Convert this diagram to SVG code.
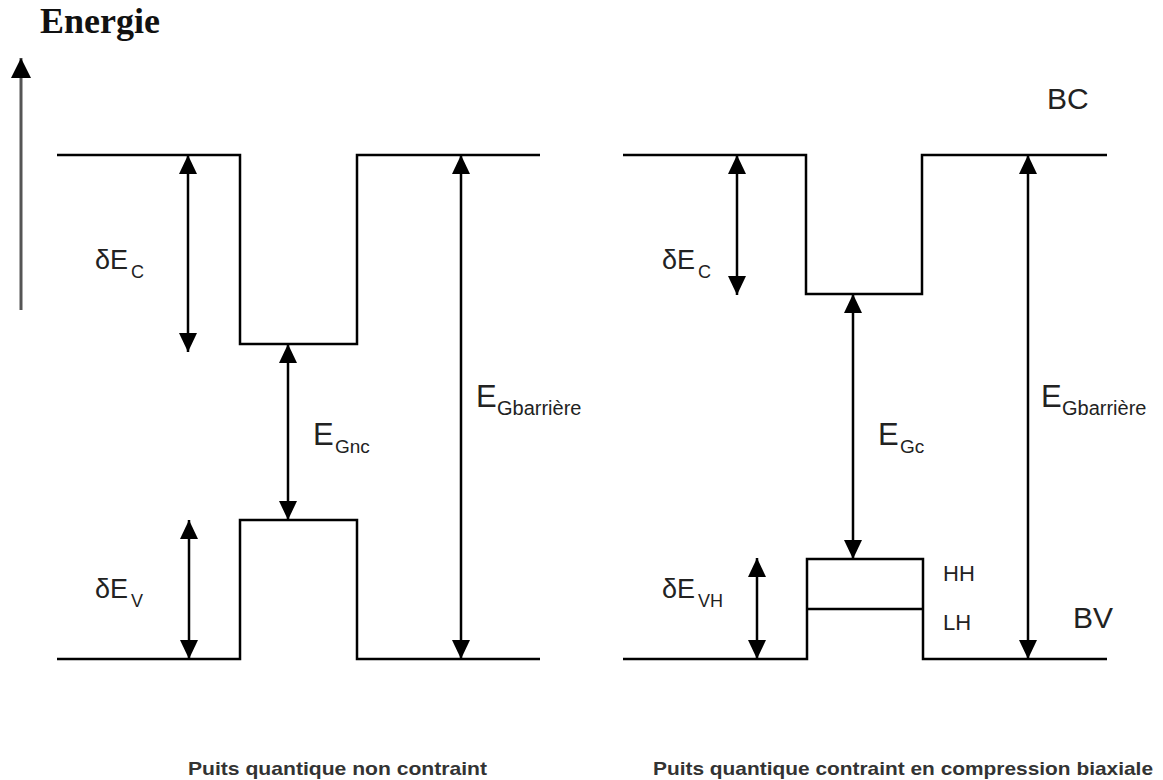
<svg xmlns="http://www.w3.org/2000/svg" width="1163" height="780" viewBox="0 0 1163 780">
<defs>
<marker id="ah" markerUnits="userSpaceOnUse" markerWidth="20" markerHeight="20" viewBox="0 0 20 20" refX="19" refY="9" orient="auto-start-reverse">
<path d="M0,0 L19,9 L0,18 z" fill="#000"/>
</marker>
<marker id="ahg" markerUnits="userSpaceOnUse" markerWidth="22" markerHeight="22" viewBox="0 0 22 22" refX="20" refY="10" orient="auto-start-reverse">
<path d="M0,0 L20,10 L0,20 z" fill="#000"/>
</marker>
</defs>
<style>
.band{fill:none;stroke:#000;stroke-width:2.5}
.arr{stroke:#000;stroke-width:2.5;marker-start:url(#ah);marker-end:url(#ah)}
.lbl{font-family:"Liberation Sans",Arial,sans-serif;fill:#222}
.cap{font-family:"Liberation Sans",Arial,sans-serif;font-weight:bold;font-size:19px;fill:#333}
</style>
<rect width="1163" height="780" fill="#fff"/>
<g id="axis">
<line x1="21" y1="310" x2="21" y2="58" stroke="#555" stroke-width="3" marker-end="url(#ahg)"/>
<text x="40" y="33" font-family="Liberation Serif,'Times New Roman',serif" font-weight="bold" font-size="36" fill="#111">Energie</text>
</g>
<g id="left-well">
<polyline class="band" points="57,155 240,155 240,344 357,344 357,155 540,155"/>
<polyline class="band" points="57,659 240,659 240,520 357,520 357,659 540,659"/>
</g>
<g id="right-well">
<polyline class="band" points="623,155 806,155 806,294 922,294 922,155 1107,155"/>
<polyline class="band" points="623,659 807,659 807,559 923,559 923,659 1107,659"/>
<line class="band" x1="807" y1="609" x2="923" y2="609"/>
</g>
<g id="connectors">
<line class="arr" x1="188" y1="155" x2="188" y2="352"/>
<line class="arr" x1="288" y1="344" x2="288" y2="520"/>
<line class="arr" x1="189" y1="520" x2="189" y2="659"/>
<line class="arr" x1="461" y1="155" x2="461" y2="659"/>
<line class="arr" x1="737" y1="155" x2="737" y2="295"/>
<line class="arr" x1="853" y1="294" x2="853" y2="559"/>
<line class="arr" x1="757" y1="558" x2="757" y2="659"/>
<line class="arr" x1="1028" y1="155" x2="1028" y2="659"/>
</g>
<g id="labels-left">
<text class="lbl" x="95" y="269" font-size="27">δE<tspan dx="3" dy="9" font-size="18">C</tspan></text>
<text class="lbl" x="95" y="598" font-size="27">δE<tspan dx="3" dy="9" font-size="18">V</tspan></text>
<text class="lbl" x="313" y="445" font-size="31">E<tspan x="335" y="453" font-size="19">Gnc</tspan></text>
<text class="lbl" x="476" y="407" font-size="31">E<tspan x="497" y="415" font-size="20">Gbarrière</tspan></text>
</g>
<g id="labels-right">
<text class="lbl" x="1047" y="109" font-size="30">BC</text>
<text class="lbl" x="1073" y="628" font-size="30">BV</text>
<text class="lbl" x="662" y="269" font-size="27">δE<tspan dx="3" dy="9" font-size="18">C</tspan></text>
<text class="lbl" x="662" y="598" font-size="27">δE<tspan dx="3" dy="9" font-size="18">VH</tspan></text>
<text class="lbl" x="878" y="445" font-size="31">E<tspan x="900" y="453" font-size="19">Gc</tspan></text>
<text class="lbl" x="1041" y="407" font-size="31">E<tspan x="1062" y="415" font-size="20">Gbarrière</tspan></text>
<text class="lbl" x="943" y="581" font-size="22">HH</text>
<text class="lbl" x="943" y="630" font-size="22">LH</text>
</g>
<g id="captions">
<text class="cap" x="188" y="775" textLength="299" lengthAdjust="spacingAndGlyphs">Puits quantique non contraint</text>
<text class="cap" x="653" y="775" textLength="500" lengthAdjust="spacingAndGlyphs">Puits quantique contraint en compression biaxiale</text>
</g>
</svg>
